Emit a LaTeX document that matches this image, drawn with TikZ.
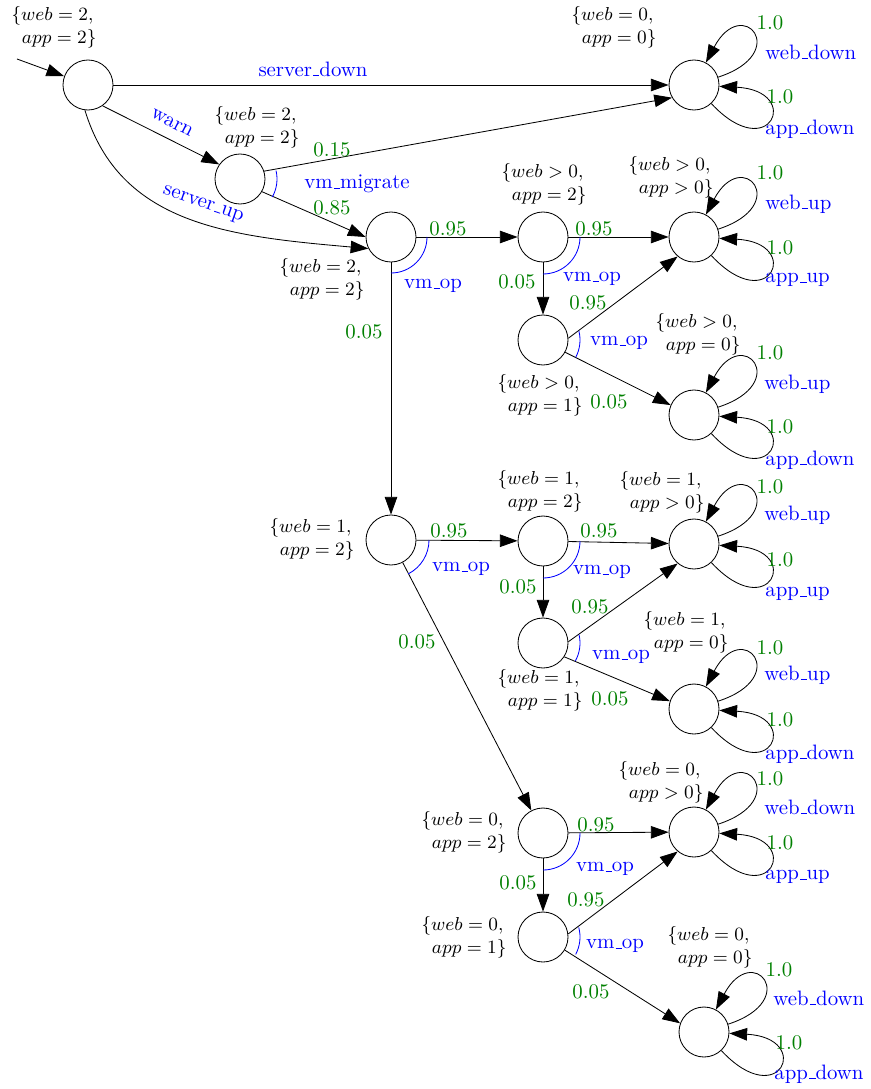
\documentclass[tikz,border=0pt]{standalone}
\usetikzlibrary{arrows.meta}
% set label of a state: two lines, right aligned
\newcommand\stlabel[2]{$\{#1,$\kern1.5pt\\$#2\}$}
% narrow low-line underscore
\newcommand\us{\leavevmode\kern.06em\vbox{\hrule width.3em}}
\begin{document}
\begin{tikzpicture}[x=0.48pt, y=0.48pt,
  state/.style={circle, draw, inner sep=0pt, minimum size=24pt},
  tr/.style={-{Triangle[length=8.5pt,width=6pt]}},
  prob/.style={text=green!50!black, inner sep=0pt},
  act/.style={text=blue, inner sep=0pt},
  setlbl/.style={font=\small, align=right, inner sep=0pt},
  branch/.style={blue},
]
\useasboundingbox (0,0) rectangle (870,-1089);

% states
\node[state] (s0) at (88,-85) {};
\node[state] (d0) at (694,-85) {};
\node[state] (s1) at (240,-179) {};
\node[state] (s2) at (391,-237) {};
\node[state] (s3) at (543,-237) {};
\node[state] (u1) at (694,-237) {};
\node[state] (s4) at (543,-340) {};
\node[state] (d1) at (694,-415) {};
\node[state] (s5) at (391,-540) {};
\node[state] (s6) at (543,-541) {};
\node[state] (u2) at (694,-544) {};
\node[state] (s7) at (543,-643) {};
\node[state] (d2) at (694,-709) {};
\node[state] (s8) at (543,-833) {};
\node[state] (u3) at (694,-832) {};
\node[state] (s9) at (543,-937) {};
\node[state] (d3) at (704,-1032) {};

% state annotations
\node[setlbl] (ls0) at (54,-27) {\stlabel{web = 2}{app = 2}};
\node[setlbl] (ls1) at (257,-127) {\stlabel{web = 2}{app = 2}};
\node[setlbl] (ls2) at (322,-279) {\stlabel{web = 2}{app = 2}};
\node[setlbl] (ld0) at (614,-27) {\stlabel{web = 0}{app = 0}};
\node[setlbl] (ls3) at (544,-184) {\stlabel{web > 0}{app = 2}};
\node[setlbl] (lu1) at (671,-177) {\stlabel{web > 0}{app > 0}};
\node[setlbl] (ls4) at (540,-395) {\stlabel{web > 0}{app = 1}};
\node[setlbl] (ld1) at (698,-334) {\stlabel{web > 0}{app = 0}};
\node[setlbl] (ls5) at (312,-539) {\stlabel{web = 1}{app = 2}};
\node[setlbl] (ls6) at (540,-491) {\stlabel{web = 1}{app = 2}};
\node[setlbl] (lu2) at (662,-492) {\stlabel{web = 1}{app > 0}};
\node[setlbl] (ls7) at (540,-690) {\stlabel{web = 1}{app = 1}};
\node[setlbl] (ld2) at (686,-632) {\stlabel{web = 1}{app = 0}};
\node[setlbl] (ls8) at (464,-832) {\stlabel{web = 0}{app = 2}};
\node[setlbl] (lu3) at (661,-782) {\stlabel{web = 0}{app > 0}};
\node[setlbl] (ls9) at (464,-937) {\stlabel{web = 0}{app = 1}};
\node[setlbl] (ld3) at (710,-947) {\stlabel{web = 0}{app = 0}};

% initial arrow
\coordinate (init) at (17,-59);
\draw[tr] (init) -- (s0);

% transitions from the start state
\draw[tr] (s0) -- (d0);
\draw[tr] (s0.-55) -- (s1.145);
\draw[tr] (s0.-97) .. controls +(-73:120) and +(175:140) .. (s2.207);
\node[act] (aDown) at (313,-69) {server\us down};
\node[act, rotate=-27] (aWarn) at (172,-123) {warn};
\node[act, rotate=-19] (aUp) at (203,-205) {server\us up};

% migration
\draw[tr] (s1.18) -- (d0.210);
\draw[tr] (s1.-30) -- (s2.west);
\draw[branch] (s1) ++(13:37) arc[start angle=13, end angle=-29, radius=37];
\node[prob] (p1) at (332,-150) {0.15};
\node[prob] (p2) at (332,-208) {0.85};
\node[act] (a1) at (357,-184) {vm\us migrate};

% web = 2 operation
\draw[tr] (s2) -- (s3);
\draw[tr] (s2) -- (s5);
\draw[branch] (s2) ++(0:36) arc[start angle=0, end angle=-90, radius=36];
\node[prob] (p3) at (448,-229) {0.95};
\node[prob] (p4) at (364,-332) {0.05};
\node[act] (a2) at (433,-286) {vm\us op};

% web > 0 branch
\draw[tr] (s3) -- (u1);
\draw[tr] (s3) -- (s4);
\draw[branch] (s3) ++(0:37) arc[start angle=0, end angle=-90, radius=37];
\node[prob] (p5) at (594,-229) {0.95};
\node[prob] (p6) at (517,-282) {0.05};
\node[act] (a3) at (592,-279) {vm\us op};

\draw[tr] (s4.4) -- (u1.230);
\draw[tr] (s4.-29) -- (d1.157);
\draw[branch] (s4) ++(14:37) arc[start angle=14, end angle=-28, radius=37];
\node[prob] (p7) at (588,-303) {0.95};
\node[prob] (p8) at (609,-402) {0.05};
\node[act] (a4) at (619,-343) {vm\us op};

% web = 1 branch
\draw[tr] (s5) -- (s6);
\draw[tr] (s5) -- (s8);
\draw[branch] (s5) ++(0:38) arc[start angle=0, end angle=-63, radius=38];
\node[prob] (p9) at (449,-531) {0.95};
\node[prob] (p10) at (417,-642) {0.05};
\node[act] (a5) at (461,-569) {vm\us op};

\draw[tr] (s6) -- (u2);
\draw[tr] (s6) -- (s7);
\draw[branch] (s6) ++(0:37) arc[start angle=0, end angle=-90, radius=37];
\node[prob] (p11) at (599,-531) {0.95};
\node[prob] (p12) at (518,-587) {0.05};
\node[act] (a6) at (602,-572) {vm\us op};

\draw[tr] (s7.3) -- (u2.230);
\draw[tr] (s7.-33) -- (d2.162);
\draw[branch] (s7) ++(13:37) arc[start angle=13, end angle=-29, radius=37];
\node[prob] (p13) at (590,-607) {0.95};
\node[prob] (p14) at (610,-699) {0.05};
\node[act] (a7) at (621,-657) {vm\us op};

% web = 0 branch
\draw[tr] (s8) -- (u3);
\draw[tr] (s8) -- (s9);
\draw[branch] (s8) ++(0:37) arc[start angle=0, end angle=-90, radius=37];
\node[prob] (p15) at (596,-825) {0.95};
\node[prob] (p16) at (518,-883) {0.05};
\node[act] (a8) at (605,-869) {vm\us op};

\draw[tr] (s9.7) -- (u3.230);
\draw[tr] (s9.-31) -- (d3.160);
\draw[branch] (s9) ++(15:37) arc[start angle=15, end angle=-28, radius=37];
\node[prob] (p17) at (586,-900) {0.95};
\node[prob] (p18) at (591,-992) {0.05};
\node[act] (a9) at (615,-946) {vm\us op};

% self loops of the absorbing states
\foreach \n in {d0,u1,d1,u2,d2,u3,d3}{
  \draw[tr] (\n.18) .. controls +(18:78) and +(62:78) .. (\n.62);
  \draw[tr] (\n.-47) .. controls +(-47:86) and +(-3:84) .. (\n.-3);
}

% loop labels
\node[prob] (q1) at (770,-23) {1.0};
\node[prob] (q2) at (780,-97) {1.0};
\node[act, anchor=west] (b1) at (765,-52) {web\us down};
\node[act, anchor=west] (b2) at (765,-129) {app\us down};

\node[prob] (q3) at (770,-173) {1.0};
\node[prob] (q4) at (780,-248) {1.0};
\node[act, anchor=west] (b3) at (765,-204) {web\us up};
\node[act, anchor=west] (b4) at (765,-280) {app\us up};

\node[prob] (q5) at (770,-353) {1.0};
\node[prob] (q6) at (780,-427) {1.0};
\node[act, anchor=west] (b5) at (764,-384) {web\us up};
\node[act, anchor=west] (b6) at (765,-460) {app\us down};

\node[prob] (q7) at (770,-487) {1.0};
\node[prob] (q8) at (780,-560) {1.0};
\node[act, anchor=west] (b7) at (764,-515) {web\us up};
\node[act, anchor=west] (b8) at (765,-594) {app\us up};

\node[prob] (q9) at (770,-648) {1.0};
\node[prob] (q10) at (780,-720) {1.0};
\node[act, anchor=west] (b9) at (764,-675) {web\us up};
\node[act, anchor=west] (b10) at (765,-754) {app\us down};

\node[prob] (q11) at (770,-779) {1.0};
\node[prob] (q12) at (780,-843) {1.0};
\node[act, anchor=west] (b11) at (764,-807) {web\us down};
\node[act, anchor=west] (b12) at (765,-877) {app\us up};

\node[prob] (q13) at (779,-970) {1.0};
\node[prob] (q14) at (789,-1043) {1.0};
\node[act, anchor=west] (b13) at (773,-998) {web\us down};
\node[act, anchor=west] (b14) at (774,-1074) {app\us down};
\end{tikzpicture}
\end{document}
